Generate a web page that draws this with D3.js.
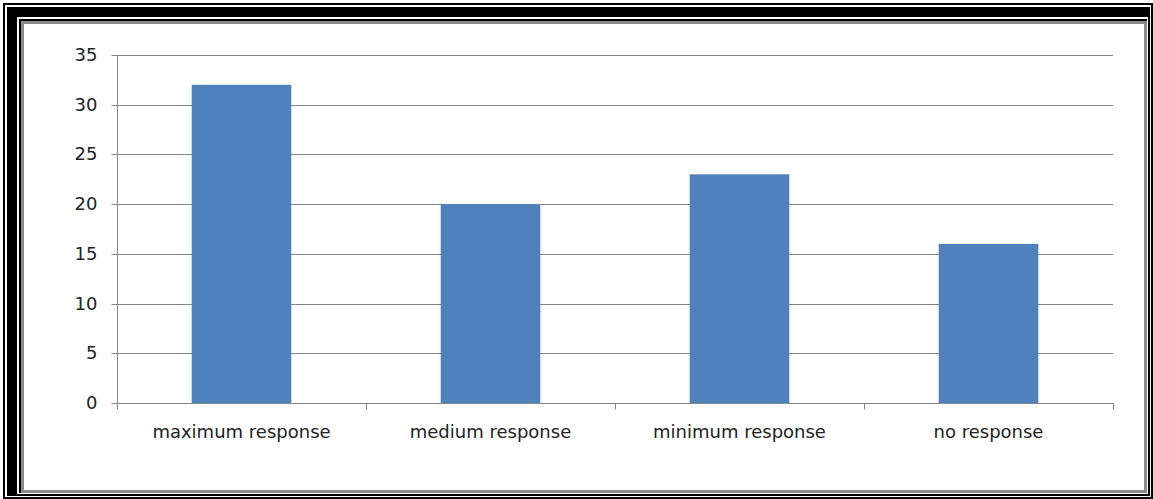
<!DOCTYPE html>
<html>
<head>
<meta charset="utf-8">
<script src="https://cdn.jsdelivr.net/npm/d3@7"></script>
<style>
  html, body { margin: 0; padding: 0; background: #fff; }
  svg { display: block; }
  .tick text { font-family: "DejaVu Sans", sans-serif; font-size: 18px; fill: #222; }
</style>
</head>
<body>
<svg id="chart" width="1153" height="499"></svg>
<script>
// Response counts per category
const categories = ["maximum response", "medium response", "minimum response", "no response"];
const counts = [32, 20, 23, 16];
const yTicks = [0, 5, 10, 15, 20, 25, 30, 35];

const W = 1153, H = 499;
const svg = d3.select("#chart");

// Picture-frame style border: nested filled rectangles [x0, y0, x1, y1, colour]
const frameLayers = [
  [0, 0, W, H, "#fff"],
  [3, 3, W, H, "#000"],
  [5, 5, W - 2, H - 2, "#fff"],
  [7, 7, W - 3, H - 3, "#000"],
  [17, 17, W - 5, H - 5, "#fff"],
  [19, 19, W - 6, H - 6, "#000"],
  [21, 21, W - 6, H - 6, "#8a8a8a"],
  [24, 24, W - 9, H - 9, "#fff"]
];
svg.append("g").selectAll("rect").data(frameLayers).join("rect")
  .attr("x", d => d[0]).attr("y", d => d[1])
  .attr("width", d => d[2] - d[0]).attr("height", d => d[3] - d[1])
  .attr("fill", d => d[4]);

// Plot area
const plot = { left: 117, right: 1113, top: 55, bottom: 403 };

const x = d3.scaleBand().domain(categories).range([plot.left, plot.right]).padding(0);
const y = d3.scaleLinear().domain([0, 35]).range([plot.bottom, plot.top]);

const g = svg.append("g");

// Horizontal gridlines
g.append("g").selectAll("line").data(yTicks.filter(d => d > 0)).join("line")
  .attr("x1", plot.left).attr("x2", plot.right)
  .attr("y1", d => Math.round(y(d)) + 0.5).attr("y2", d => Math.round(y(d)) + 0.5)
  .attr("stroke", "#878787").attr("stroke-width", 1);

// Bars
const barW = x.bandwidth() * 0.4;
g.append("g").selectAll("rect").data(categories).join("rect")
  .attr("x", (d) => x(d) + (x.bandwidth() - barW) / 2)
  .attr("width", barW)
  .attr("y", (d, i) => y(counts[i]))
  .attr("height", (d, i) => y(0) - y(counts[i]))
  .attr("fill", "#4f81bd");

// Y axis
const yAxis = d3.axisLeft(y).tickValues(yTicks).tickSize(6).tickPadding(14);
const ya = g.append("g").attr("transform", `translate(${plot.left + 0.5},0.5)`).call(yAxis);
ya.select(".domain").attr("stroke", "#878787").attr("d", `M0,${plot.top}V${plot.bottom}`);
ya.selectAll(".tick line").attr("stroke", "#878787");
ya.selectAll(".tick").attr("transform", d => `translate(0,${Math.round(y(d))})`);

// X axis with boundary ticks between categories
const xa = g.append("g").attr("transform", `translate(0,${plot.bottom + 0.5})`);
xa.append("line").attr("x1", plot.left).attr("x2", plot.right + 0.5).attr("y1", 0).attr("y2", 0)
  .attr("stroke", "#878787");
const bounds = categories.map(c => x(c)).concat([plot.right]);
xa.selectAll("line.b").data(bounds).join("line").attr("class", "b")
  .attr("x1", d => Math.round(d) + 0.5).attr("x2", d => Math.round(d) + 0.5)
  .attr("y1", 0).attr("y2", 6).attr("stroke", "#878787");
xa.selectAll("text").data(categories).join("text")
  .attr("x", d => x(d) + x.bandwidth() / 2)
  .attr("y", 34)
  .attr("text-anchor", "middle")
  .style("font-family", "'DejaVu Sans', sans-serif").style("font-size", "18px").style("fill", "#222")
  .text(d => d);
</script>
</body>
</html>
